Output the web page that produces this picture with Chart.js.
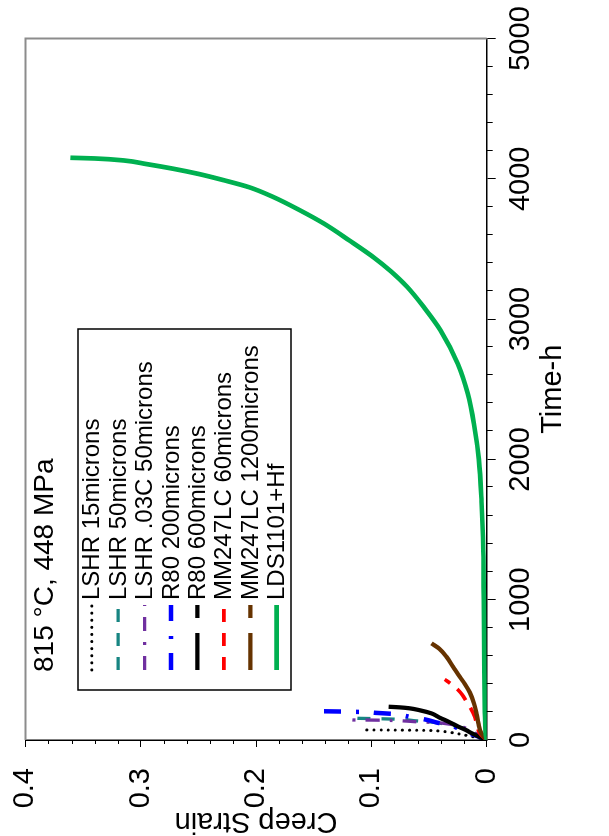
<!DOCTYPE html>
<html><head><meta charset="utf-8">
<script src="https://cdn.jsdelivr.net/npm/chart.js@4.4.1/dist/chart.umd.min.js"></script>
<style>
html,body{margin:0;padding:0;background:#fff;overflow:hidden;width:609px;height:836px;}
#wrap{position:absolute;left:0;top:0;width:836px;height:609px;transform-origin:0 0;transform:translate(0px,836px) rotate(-90deg);}
canvas{display:block;}
</style></head><body>
<div id="wrap"><canvas id="c" width="836" height="609"></canvas></div>
<script>
// ---- data ----
const chartTitle = "815 °C, 448 MPa";
const xTitle = "Time-h";
const yTitle = "Creep Strain";
const timeTicks = [0, 1000, 2000, 3000, 4000, 5000];
const strainTicks = [0, 0.1, 0.2, 0.3, 0.4];
const seriesNames = ["LSHR 15microns", "LSHR 50microns", "LSHR .03C 50microns", "R80 200microns", "R80 600microns", "MM247LC 60microns", "MM247LC 1200microns", "LDS1101+Hf"];

const lshr15Time   = [0, 10, 20, 30, 40, 48, 56, 63, 68, 70, 71, 72];
const lshr15Strain = [0, 0.005, 0.010, 0.016, 0.022, 0.027, 0.033, 0.040, 0.050, 0.065, 0.085, 0.108];

const lshr50Time   = [0, 20, 40, 59, 85, 105, 119, 130, 137, 147, 151, 154, 156];
const lshr50Strain = [0, 0.004, 0.008, 0.012, 0.021, 0.030, 0.040, 0.050, 0.062, 0.075, 0.090, 0.108, 0.120];

const lshr03cTime   = [0, 20, 40, 60, 80, 100, 115, 125, 130, 136, 140, 142, 143];
const lshr03cStrain = [0, 0.004, 0.008, 0.012, 0.017, 0.024, 0.034, 0.046, 0.061, 0.072, 0.086, 0.100, 0.120];

const r80_200Time   = [0, 30, 60, 95, 110, 122, 140, 154, 166, 185, 193, 200, 203, 205];
const r80_200Strain = [0, 0.009, 0.020, 0.028, 0.033, 0.042, 0.050, 0.058, 0.067, 0.080, 0.095, 0.110, 0.127, 0.143];

const r80_600Time   = [0, 25, 48, 71, 95, 130, 160, 190, 212, 226, 233, 237];
const r80_600Strain = [0, 0.007, 0.013, 0.018, 0.0245, 0.033, 0.041, 0.048, 0.058, 0.067, 0.076, 0.085];

const mm60Time   = [0, 48, 110, 166, 220, 273, 320, 368, 400, 432];
const mm60Strain = [0, 0.006, 0.0085, 0.0104, 0.0135, 0.0176, 0.021, 0.0262, 0.031, 0.0364];

const mm1200Time   = [0, 48, 120, 190, 260, 340, 400, 451, 520, 593, 650, 689];
const mm1200Strain = [0, 0.0046, 0.0072, 0.0089, 0.011, 0.0147, 0.019, 0.0234, 0.029, 0.0349, 0.041, 0.0479];

const ldsTime   = [0, 50, 200, 500, 1000, 1350, 1700, 2000, 2250, 2470, 2680, 2920, 3080, 3230, 3340, 3440, 3560, 3680, 3780, 3870, 3940, 3990, 4035, 4072, 4105, 4131, 4145, 4150];
const ldsStrain = [0, 0.001, 0.0015, 0.002, 0.0025, 0.003, 0.0045, 0.0068, 0.011, 0.0165, 0.025, 0.040, 0.054, 0.069, 0.083, 0.098, 0.119, 0.141, 0.163, 0.185, 0.206, 0.228, 0.250, 0.272, 0.295, 0.315, 0.340, 0.361];

const pts = (t, s) => t.map((v, i) => ({x: v, y: s[i]}));

// ---- styles ----
const FONT = "'Liberation Sans', Arial, sans-serif";
const styles = [
  {color:'#000000', width:3, dash:[0.1,7], cap:'round', legendDash:[0.1,7]},
  {color:'#178582', width:3.3, dash:[13,11], cap:'butt', legendDash:[13,11]},
  {color:'#7030A0', width:3.3, dash:[14,10,3,10], cap:'butt', legendDash:[14,11,3,11]},
  {color:'#0000FF', width:4.5, dash:[17,15,3,15], cap:'butt', legendDash:[17,14,3,15]},
  {color:'#000000', width:4.3, dash:[], cap:'butt', legendDash:[37,15]},
  {color:'#FF0000', width:3.7, dash:[14,9], cap:'butt', legendDash:[13,11]},
  {color:'#663300', width:4.3, dash:[], cap:'butt', legendDash:[37,15]},
  {color:'#00B050', width:4.7, dash:[], cap:'butt', legendDash:[]}
];
const seriesData = [
  pts(lshr15Time, lshr15Strain), pts(lshr50Time, lshr50Strain), pts(lshr03cTime, lshr03cStrain),
  pts(r80_200Time, r80_200Strain), pts(r80_600Time, r80_600Strain), pts(mm60Time, mm60Strain),
  pts(mm1200Time, mm1200Strain), pts(ldsTime, ldsStrain)
];
const datasets = seriesNames.map((name, i) => ({
  label: name, data: seriesData[i], showLine: true,
  borderColor: styles[i].color, backgroundColor: styles[i].color,
  borderWidth: styles[i].width, borderDash: styles[i].dash, borderCapStyle: styles[i].cap,
  pointRadius: 0, pointHoverRadius: 0, cubicInterpolationMode: 'monotone', fill: false,
  order: seriesNames.length - i, legendDash: styles[i].legendDash
}));

const decor = {
  id: 'decor',
  beforeDatasetsDraw(chart) {
    const {ctx, chartArea: a} = chart;
    ctx.save();
    ctx.strokeStyle = '#8c8c8c'; ctx.lineWidth = 2;
    ctx.beginPath();
    ctx.moveTo(a.left, a.top); ctx.lineTo(a.right, a.top); ctx.lineTo(a.right, a.bottom);
    ctx.stroke();
    ctx.restore();
  },
  afterDraw(chart) {
    const {ctx, chartArea: a, scales: {x, y}} = chart;
    ctx.save();
    // minor ticks
    ctx.strokeStyle = '#000'; ctx.lineWidth = 1;
    for (let k = 1; k < 25; k++) {
      if (k % 5 === 0) continue;
      const px = Math.round(x.getPixelForValue(k * 200)) + 0.5;
      ctx.beginPath(); ctx.moveTo(px, a.bottom); ctx.lineTo(px, a.bottom + 6); ctx.stroke();
    }
    for (let k = 1; k < 20; k++) {
      if (k % 5 === 0) continue;
      const py = Math.round(y.getPixelForValue(k * 0.02)) + 0.5;
      ctx.beginPath(); ctx.moveTo(a.left - 4, py); ctx.lineTo(a.left, py); ctx.stroke();
    }
    // title text
    ctx.fillStyle = '#000';
    ctx.font = "28px " + FONT;
    ctx.textBaseline = 'alphabetic'; ctx.textAlign = 'left';
    ctx.fillText(chartTitle, 164, 53);
    // legend box
    const L = 146, R = 507, T = 78, B = 291;
    ctx.strokeStyle = '#000'; ctx.lineWidth = 1.5;
    ctx.strokeRect(L, T, R - L, B - T);
    ctx.font = "24px " + FONT;
    ctx.textBaseline = 'middle';
    chart.data.datasets.forEach((ds, i) => {
      const yy = 91.7 + i * 26.43;
      ctx.save();
      ctx.strokeStyle = ds.borderColor; ctx.lineWidth = ds.borderWidth;
      ctx.lineCap = ds.borderCapStyle;
      ctx.setLineDash(ds.legendDash);
      ctx.beginPath(); ctx.moveTo(166, yy); ctx.lineTo(231, yy); ctx.stroke();
      ctx.restore();
      ctx.fillStyle = '#000';
      ctx.fillText(ds.label, 236, yy + 1);
    });
    ctx.restore();
  }
};

new Chart(document.getElementById('c'), {
  type: 'scatter',
  data: {datasets},
  options: {
    responsive: false, animation: false, devicePixelRatio: 1,
    layout: {padding: {top: 25.4, right: 38.5, left: 0, bottom: 0}},
    plugins: {legend: {display: false}, tooltip: {enabled: false}},
    scales: {
      x: {
        type: 'linear', min: timeTicks[0], max: timeTicks[timeTicks.length - 1],
        afterBuildTicks: s => { s.ticks = timeTicks.map(v => ({value: v})); },
        afterFit: s => { s.height = 122.3; s.paddingLeft = 0; s.paddingRight = 0; },
        grid: {drawOnChartArea: false, drawTicks: true, tickLength: 9, color: '#000', lineWidth: 1},
        border: {display: true, color: '#000', width: 1.5},
        ticks: {color: '#000', font: {family: FONT, size: 29}, padding: 8, maxRotation: 0, autoSkip: false,
                callback: v => String(v)},
        title: {display: true, text: xTitle, color: '#000', font: {family: FONT, size: 29}, padding: {top: 0, bottom: 39}}
      },
      y: {
        type: 'linear', min: strainTicks[0], max: strainTicks[strainTicks.length - 1],
        afterBuildTicks: s => { s.ticks = strainTicks.map(v => ({value: v})); },
        afterFit: s => { s.width = 96; s.paddingTop = 0; s.paddingBottom = 0; },
        grid: {drawOnChartArea: false, drawTicks: true, tickLength: 7, color: '#000', lineWidth: 1},
        border: {display: true, color: '#000', width: 1.5},
        ticks: {color: '#000', font: {family: FONT, size: 29}, padding: 21, autoSkip: false,
                callback: v => (v === 0 ? '0' : String(Math.round(v * 10) / 10))},
        title: {display: true, text: yTitle, color: '#000', font: {family: FONT, size: 29, lineHeight: 1}, padding: {top: 0, bottom: 0}}
      }
    }
  },
  plugins: [decor]
});
</script>
</body></html>
